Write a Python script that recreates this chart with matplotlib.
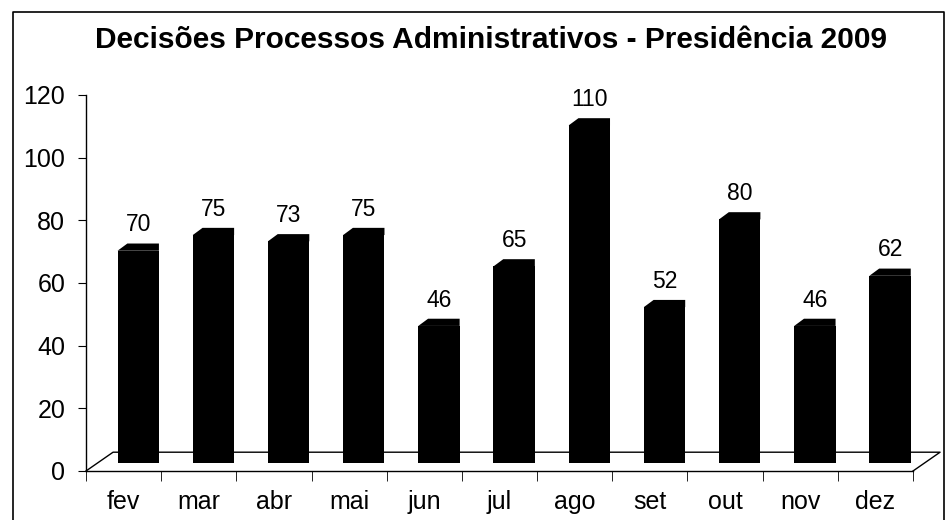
import numpy as np
import matplotlib
matplotlib.use("Agg")
from matplotlib import pyplot as plt
from matplotlib.patches import Polygon, Rectangle
from matplotlib.lines import Line2D

months = ["fev", "mar", "abr", "mai", "jun", "jul", "ago", "set", "out", "nov", "dez"]
decisoes = [70, 75, 73, 75, 46, 65, 110, 52, 80, 46, 62]
y_ticks = [0, 20, 40, 60, 80, 100, 120]
title = "Decisões Processos Administrativos - Presidência 2009"

plt.rcParams['font.family'] = ['Liberation Sans', 'DejaVu Sans']

W, H = 948, 520
fig = plt.figure(figsize=(W / 100, H / 100), dpi=100)
fig.patch.set_facecolor("white")

# moldura escaneada
fig.add_artist(Line2D([13 / W, 13 / W, 944 / W, 944 / W],
                      [-0.05, 1 - 12 / H, 1 - 12 / H, -0.05],
                      color="black", lw=1.2))

fig.text(491 / W, 1 - 48 / H, title, ha="center", va="baseline",
         fontsize=21.5, fontweight="bold")

ax = fig.add_axes([86 / W, 1 - 471 / H, (913 - 86) / W, (471 - 95) / H])
n = len(months)
ax.set_xlim(-0.5, n - 0.5)
ax.set_ylim(0, 120)

# profundidade (efeito 3D)
dx, dy = 0.36, 6.0
floor_kw = dict(color="black", lw=1.0, clip_on=False, zorder=1)
ax.plot([-0.5, -0.5 + dx, n - 0.5 + dx, n - 0.5], [0, dy, dy, 0], **floor_kw)

base = 2.6
top_dx, top_dy = 0.13, 2.3
for i, v in enumerate(decisoes):
    xl = i - 0.5 + 0.42
    xr = i - 0.5 + 0.97
    ax.add_patch(Rectangle((xl, base), xr - xl, v - top_dy, color="black",
                           lw=0, zorder=3, clip_on=False))
    ax.add_patch(Polygon([(xl, base + v - top_dy), (xl + top_dx, base + v),
                          (xr, base + v), (xr, base + v - top_dy)],
                         closed=True, color="black", lw=0, zorder=3, clip_on=False))
    ax.text((xl + xr) / 2, base + v + 2.3, str(v), ha="center", va="bottom",
            fontsize=16.5, clip_on=False)

for s in ["top", "right"]:
    ax.spines[s].set_visible(False)
ax.spines["left"].set_linewidth(1.0)
ax.spines["bottom"].set_linewidth(1.0)

ax.set_yticks(y_ticks)
ax.tick_params(axis="y", direction="out", length=6, labelsize=18, pad=9)
ax.set_xticks(range(n))
ax.set_xticklabels(months)
ax.set_xticks(np.arange(-0.5, n, 1.0), minor=True)
ax.tick_params(axis="x", which="major", length=0, labelsize=18, pad=14)
ax.tick_params(axis="x", which="minor", direction="out", length=7)

plt.savefig("out.png", dpi=100)
